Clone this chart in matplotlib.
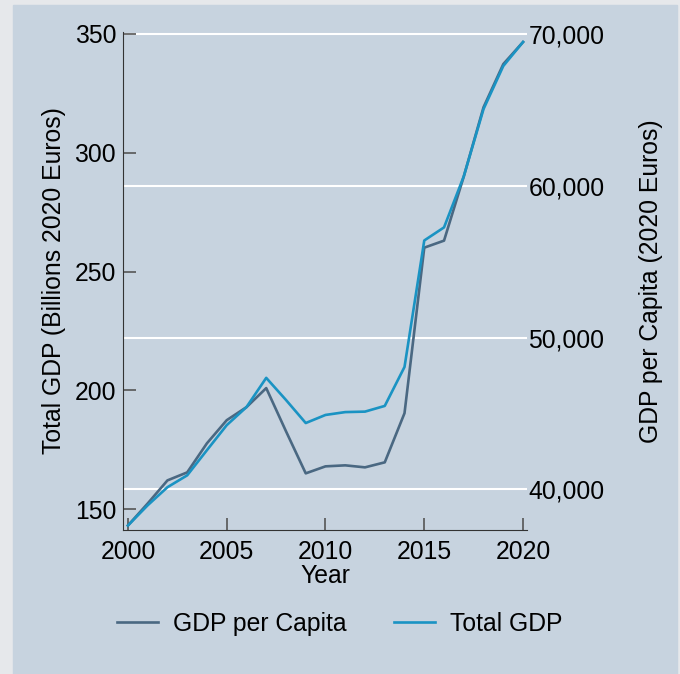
import numpy as np
import matplotlib.pyplot as plt
from matplotlib.patches import Rectangle
from matplotlib.ticker import FuncFormatter

plt.rcParams['font.family'] = ['Liberation Sans', 'DejaVu Sans']

# data
years = list(range(2000, 2021))
total_gdp = [143.2, 151.7, 159.3, 164.3, 174.9, 185.4, 193.0, 205.3, 196.0, 186.3,
             189.7, 190.9, 191.1, 193.5, 209.9, 263.1, 268.6, 290.1, 318.4, 336.5, 346.6]
gdp_per_capita = [37614, 39069, 40588, 41116, 43034, 44554, 45413, 46669, 43826, 41051,
                  41513, 41579, 41447, 41777, 45017, 55922, 56385, 60614, 65175, 68017, 69471]
left_ticks = [150, 200, 250, 300, 350]
right_ticks = [40000, 50000, 60000, 70000]
x_ticks = [2000, 2005, 2010, 2015, 2020]

c_cap = "#4a6882"
c_tot = "#1a93c3"
fs = 17.8

fig = plt.figure(figsize=(6.8, 6.74), dpi=100)
fig.patch.set_facecolor("#e6e8eb")
fig.patches.append(Rectangle((13 / 680, 0), 664 / 680, 669 / 674,
                             transform=fig.transFigure, color="#c7d3df", zorder=-5))

ax1 = fig.add_axes([123 / 680, 1 - 530 / 674, 404 / 680, 498 / 674])
ax2 = ax1.twinx()
ax1.set_zorder(ax2.get_zorder() + 1)
ax1.patch.set_visible(False)
ax2.patch.set_visible(False)

# per capita on the right axis, total on the left
l_cap, = ax2.plot(years, gdp_per_capita, color=c_cap, lw=1.9, label="GDP per Capita")
l_tot, = ax1.plot(years, total_gdp, color=c_tot, lw=1.9, label="Total GDP")

ax1.set_xlim(1999.75, 2020.2)
ax1.set_ylim(141.3, 350.8)
ax2.set_ylim(37319, 70132)

ax1.set_xticks(x_ticks)
ax1.set_yticks(left_ticks)
ax2.set_yticks(right_ticks)
ax2.yaxis.set_major_formatter(FuncFormatter(lambda v, p: f"{int(v):,}"))

ax2.grid(axis="y", color="white", lw=1.5)
ax2.set_axisbelow(True)

for s in ["top", "right"]:
    ax1.spines[s].set_visible(False)
for s in ["top", "right", "left", "bottom"]:
    ax2.spines[s].set_visible(False)
ax1.spines["left"].set_color("#333333")
ax1.spines["bottom"].set_color("#333333")

ax1.tick_params(axis="both", direction="in", length=9, width=1.2, color="#555555",
                labelsize=fs, pad=5)
ax1.tick_params(axis="x", pad=7)
ax2.tick_params(axis="y", length=0, labelsize=fs, pad=1)

ax1.set_xlabel("Year", fontsize=fs, labelpad=0)
ax1.set_ylabel("Total GDP (Billions 2020 Euros)", fontsize=fs, labelpad=6)
ax2.set_ylabel("GDP per Capita (2020 Euros)", fontsize=fs, labelpad=25)

fig.legend(handles=[l_cap, l_tot], loc="center", bbox_to_anchor=(0.5, 1 - 624 / 674),
           ncol=2, frameon=False, fontsize=fs, handlelength=1.65, handletextpad=0.62,
           columnspacing=1.9)

fig.savefig("out.png", dpi=100, facecolor=fig.get_facecolor())
